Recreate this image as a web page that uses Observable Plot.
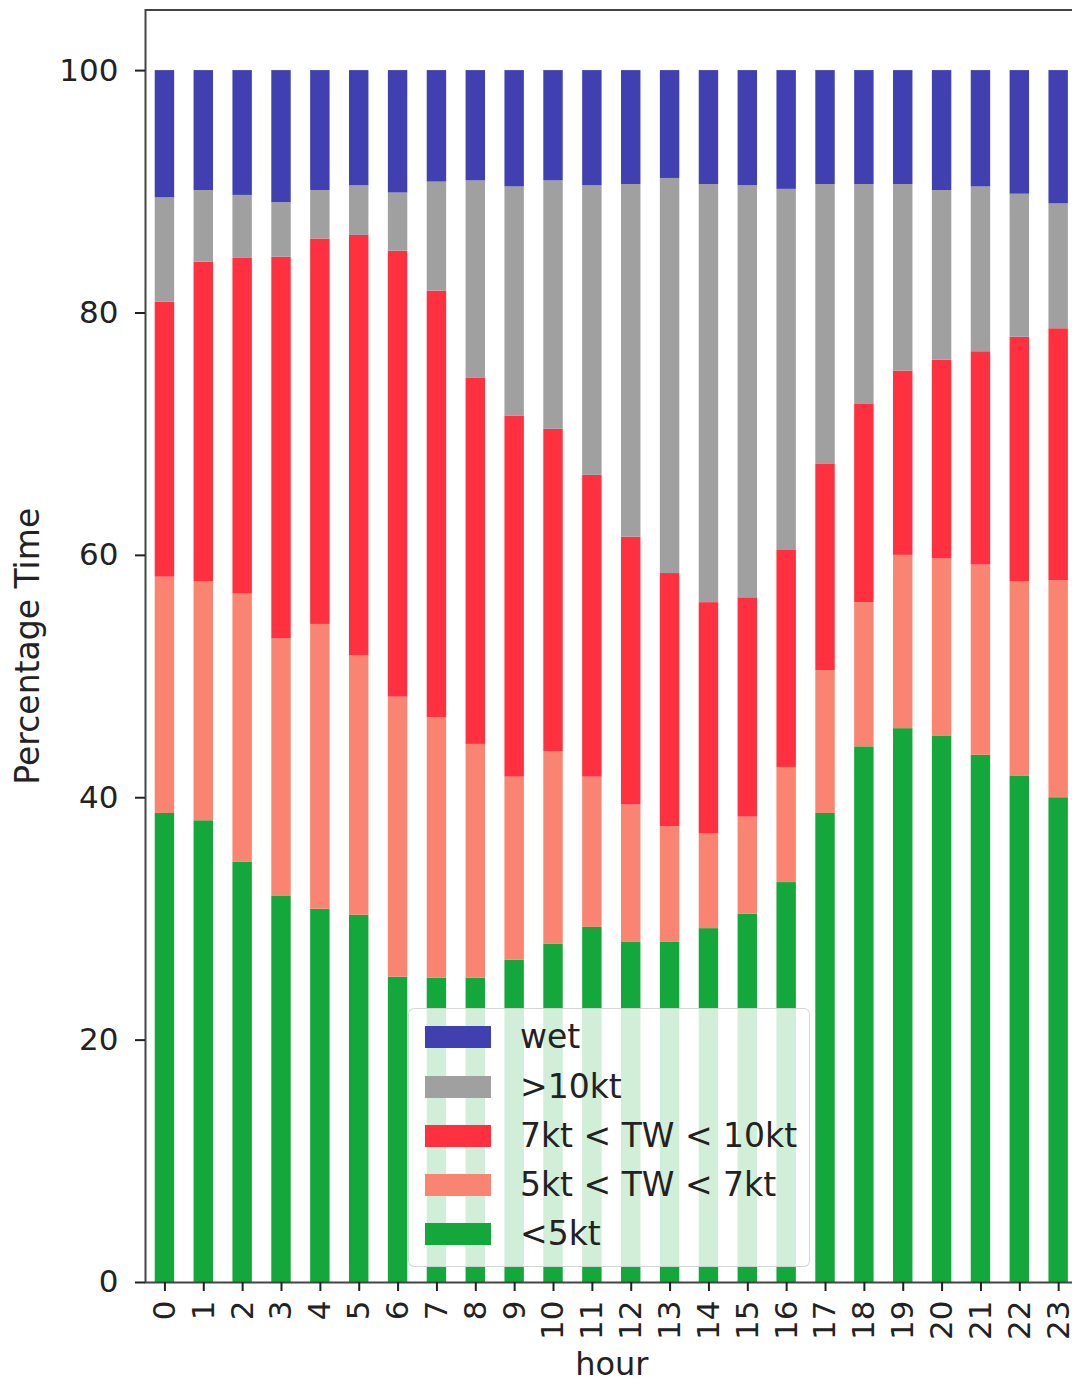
<!DOCTYPE html>
<html>
<head>
<meta charset="utf-8">
<script src="https://cdn.jsdelivr.net/npm/d3@7"></script>
<script src="https://cdn.jsdelivr.net/npm/@observablehq/plot@0.6"></script>
<style>
  html, body { margin: 0; padding: 0; background: #fff; }
  #wrap { position: relative; width: 1072px; height: 1392px; overflow: hidden; font-family: "DejaVu Sans", sans-serif; }
  #legend { position: absolute; left: 408px; top: 1008px; width: 402px; height: 259px;
            background: rgba(255,255,255,0.8); border: 1.5px solid rgba(204,204,204,0.8);
            border-radius: 6px; box-sizing: border-box; }
  #legend .sw { position: absolute; left: 16px; width: 66px; height: 22px; }
  #legend .lb { position: absolute; left: 111px; font-size: 33px; line-height: 33px; color: #222; white-space: nowrap; }
</style>
</head>
<body>
<div id="wrap"><div id="legend"></div></div>
<script>
const hours = ["0","1","2","3","4","5","6","7","8","9","10","11","12","13","14","15","16","17","18","19","20","21","22","23"];
const seriesNames = ["<5kt", "5kt < TW < 7kt", "7kt < TW < 10kt", ">10kt", "wet"];
const seriesColors = ["#14a83c", "#fa8472", "#ff3040", "#a0a0a0", "#4040b0"];

const lt5  = [38.7,38.1,34.7,31.9,30.8,30.3,25.2,25.1,25.1,26.6,27.9,29.3,28.1,28.1,29.2,30.4,33.0,38.7,44.2,45.7,45.1,43.5,41.8,40.0];
const s57  = [19.5,19.7,22.1,21.2,23.5,21.4,23.1,21.5,19.3,15.1,15.9,12.4,11.3,9.5,7.8,8.0,9.5,11.8,11.9,14.3,14.6,15.7,16.0,17.9];
const s710 = [22.7,26.4,27.7,31.5,31.8,34.7,36.8,35.2,30.2,29.8,26.6,24.9,22.1,20.9,19.1,18.1,17.9,17.0,16.4,15.2,16.4,17.6,20.2,20.8];
const gt10 = [8.6,5.9,5.2,4.5,4.0,4.1,4.8,9.0,16.3,18.9,20.5,23.9,29.1,32.6,34.5,34.0,29.8,23.1,18.1,15.4,14.0,13.6,11.8,10.3];
const wet  = [10.5,9.9,10.3,10.9,9.9,9.5,10.1,9.2,9.1,9.6,9.1,9.5,9.4,8.9,9.4,9.5,9.8,9.4,9.4,9.4,9.9,9.6,10.2,11.0];
const yTicks = [0, 20, 40, 60, 80, 100];

const seriesValues = [lt5, s57, s710, gt10, wet];
const data = seriesNames.flatMap((s, i) => hours.map((h, j) => ({hour: h, series: s, value: seriesValues[i][j]})));

const chart = Plot.plot({
  width: 1072,
  height: 1392,
  marginLeft: 145,
  marginRight: -5.6,
  marginTop: 9.5,
  marginBottom: 110,
  style: {fontFamily: "DejaVu Sans", fontSize: "31px", color: "#222", background: "#fff", overflow: "hidden"},
  x: {type: "band", domain: hours, paddingInner: 0.5, paddingOuter: 0.25, round: false, label: null},
  y: {domain: [0, 105], label: null},
  color: {domain: seriesNames, range: seriesColors},
  marks: [
    Plot.barY(data, {x: "hour", y: "value", fill: "series", order: seriesNames, inset: 0}),
    Plot.frame({stroke: "#444", strokeWidth: 2}),
    Plot.axisY({ticks: yTicks, tickSize: 10, tickPadding: 17, fontSize: 31, label: null, strokeWidth: 2}),
    Plot.axisX({tickSize: 9, tickPadding: 9, tickRotate: -90, fontSize: 31, label: null, strokeWidth: 2}),
    Plot.text(["Percentage Time"], {frameAnchor: "left", dx: -117, rotate: -90, textAnchor: "middle", fontSize: 33, fill: "#222"}),
    Plot.text(["hour"], {frameAnchor: "bottom", dy: 92, fontSize: 32, fill: "#222"})
  ]
});
const wrap = document.getElementById("wrap");
wrap.insertBefore(chart, wrap.firstChild);

const legend = document.getElementById("legend");
const rowCenters = [28, 78, 127, 176, 225];
const legendOrder = [4, 3, 2, 1, 0];
legendOrder.forEach((si, r) => {
  const sw = document.createElement("div");
  sw.className = "sw";
  sw.style.top = (rowCenters[r] - 11) + "px";
  sw.style.background = seriesColors[si];
  legend.appendChild(sw);
  const lb = document.createElement("div");
  lb.className = "lb";
  lb.style.top = (rowCenters[r] - 17) + "px";
  lb.textContent = seriesNames[si];
  legend.appendChild(lb);
});
</script>
</body>
</html>
